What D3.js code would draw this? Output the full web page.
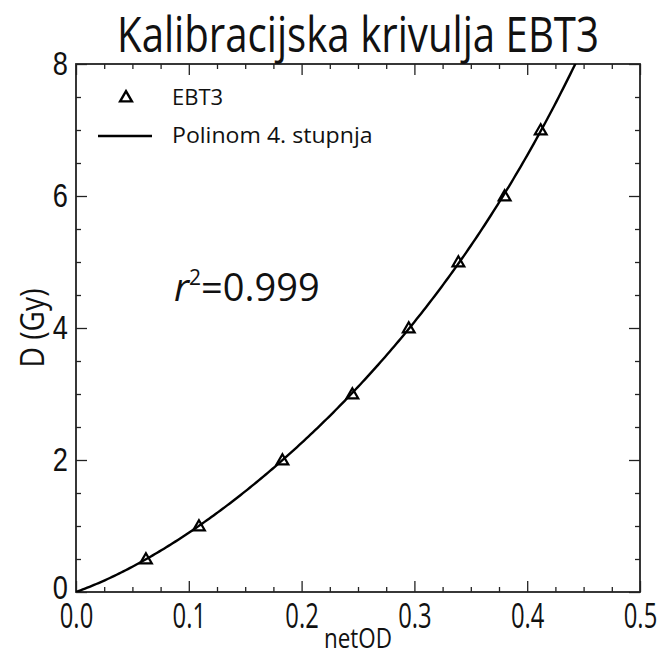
<!DOCTYPE html>
<html>
<head>
<meta charset="utf-8">
<script src="https://cdn.jsdelivr.net/npm/d3@7"></script>
<style>
  html, body { margin: 0; padding: 0; background: #fff; }
  svg { display: block; font-family: "Open Sans", sans-serif; }
</style>
</head>
<body>
<svg id="chart" width="661" height="655"></svg>
<script>
// ---- data ----
const netOD = [0.062, 0.109, 0.183, 0.245, 0.295, 0.339, 0.380, 0.412];
const dose  = [0.5, 1, 2, 3, 4, 5, 6, 7];
const xTicks = [0.0, 0.1, 0.2, 0.3, 0.4, 0.5];
const yTicks = [0, 2, 4, 6, 8];
const titleText = "Kalibracijska krivulja EBT3";
const xLabel = "netOD";
const yLabel = "D (Gy)";
const legendLabels = ["EBT3", "Polinom 4. stupnja"];
const r2Value = "0.999";

// ---- layout ----
const W = 661, H = 655;
const m = { left: 76, right: 21, top: 64, bottom: 63 };
const svg = d3.select("#chart");

const x = d3.scaleLinear().domain([0, 0.5]).range([m.left, W - m.right]);
const y = d3.scaleLinear().domain([0, 8]).range([H - m.bottom, m.top]);

// condense a text element horizontally by a factor
function condense(sel, f) {
  sel.each(function() {
    const w = this.getComputedTextLength();
    d3.select(this).attr("textLength", w * f).attr("lengthAdjust", "spacingAndGlyphs");
  });
}

// ---- 4th degree polynomial least-squares fit through origin (from the data) ----
function fitPoly(xs, ys, deg) {
  const n = deg;
  const A = Array.from({length: n}, () => new Array(n).fill(0));
  const b = new Array(n).fill(0);
  xs.forEach((xi, k) => {
    const p = d3.range(1, deg + 1).map(e => Math.pow(xi, e));
    for (let i = 0; i < n; i++) {
      b[i] += p[i] * ys[k];
      for (let j = 0; j < n; j++) A[i][j] += p[i] * p[j];
    }
  });
  for (let i = 0; i < n; i++) {
    let piv = i;
    for (let r = i + 1; r < n; r++) if (Math.abs(A[r][i]) > Math.abs(A[piv][i])) piv = r;
    [A[i], A[piv]] = [A[piv], A[i]]; [b[i], b[piv]] = [b[piv], b[i]];
    for (let r = i + 1; r < n; r++) {
      const f = A[r][i] / A[i][i];
      for (let c = i; c < n; c++) A[r][c] -= f * A[i][c];
      b[r] -= f * b[i];
    }
  }
  const c = new Array(n).fill(0);
  for (let i = n - 1; i >= 0; i--) {
    let s = b[i];
    for (let j = i + 1; j < n; j++) s -= A[i][j] * c[j];
    c[i] = s / A[i][i];
  }
  return xv => c.reduce((acc, ci, i) => acc + ci * Math.pow(xv, i + 1), 0);
}
const poly = fitPoly(netOD, dose, 4);
const curveX = d3.range(0, 0.5001, 0.002);
const curve = curveX.map(v => [v, poly(v)]);

// ---- clip ----
svg.append("defs").append("clipPath").attr("id", "clip")
  .append("rect").attr("x", m.left).attr("y", m.top)
  .attr("width", W - m.left - m.right).attr("height", H - m.top - m.bottom);

const axisColor = "#222";
const xMinor = d3.range(0, 0.5001, 0.025).filter(v => Math.abs(v * 10 - Math.round(v * 10)) > 1e-6);
const yMinor = d3.range(0, 8.001, 0.5).filter(v => v % 2 !== 0);

function styleAxis(g) {
  g.select(".domain").remove();
  g.selectAll(".tick line").attr("stroke", axisColor).attr("stroke-width", 1.3);
}
// bottom
svg.append("g").attr("transform", `translate(0,${y(0)})`)
  .call(d3.axisBottom(x).tickValues(xTicks).tickSize(-11).tickFormat(d3.format(".1f")).tickPadding(0))
  .call(styleAxis)
  .call(g => g.selectAll("text").attr("font-size", 35).attr("fill", "#111")
     .attr("font-family", "Open Sans").attr("dy", null).attr("y", 36))
  .call(g => condense(g.selectAll("text"), 0.68));
svg.append("g").attr("transform", `translate(0,${y(0)})`)
  .call(d3.axisBottom(x).tickValues(xMinor).tickSize(-5).tickFormat(""))
  .call(styleAxis);
// top
svg.append("g").attr("transform", `translate(0,${y(8)})`)
  .call(d3.axisTop(x).tickValues(xTicks).tickSize(-11).tickFormat(""))
  .call(styleAxis);
svg.append("g").attr("transform", `translate(0,${y(8)})`)
  .call(d3.axisTop(x).tickValues(xMinor).tickSize(-5).tickFormat(""))
  .call(styleAxis);
// left
svg.append("g").attr("transform", `translate(${x(0)},0)`)
  .call(d3.axisLeft(y).tickValues(yTicks).tickSize(-11).tickFormat(d3.format("d")).tickPadding(8))
  .call(styleAxis)
  .call(g => g.selectAll("text").attr("font-size", 34).attr("fill", "#111"))
  .call(g => g.selectAll(".tick").filter(d => d === 0).select("text").attr("dy", "0.2em"))
  .call(g => condense(g.selectAll("text"), 0.8));
svg.append("g").attr("transform", `translate(${x(0)},0)`)
  .call(d3.axisLeft(y).tickValues(yMinor).tickSize(-5).tickFormat(""))
  .call(styleAxis);
// right
svg.append("g").attr("transform", `translate(${x(0.5)},0)`)
  .call(d3.axisRight(y).tickValues(yTicks).tickSize(-11).tickFormat(""))
  .call(styleAxis);
svg.append("g").attr("transform", `translate(${x(0.5)},0)`)
  .call(d3.axisRight(y).tickValues(yMinor).tickSize(-5).tickFormat(""))
  .call(styleAxis);

// frame
svg.append("rect").attr("x", x(0)).attr("y", y(8))
  .attr("width", x(0.5) - x(0)).attr("height", y(0) - y(8))
  .attr("fill", "none").attr("stroke", axisColor).attr("stroke-width", 1.8);

// ---- curve ----
svg.append("path").datum(curve)
  .attr("clip-path", "url(#clip)")
  .attr("fill", "none").attr("stroke", "#000").attr("stroke-width", 2.4)
  .attr("d", d3.line().x(d => x(d[0])).y(d => y(d[1])));

// ---- markers ----
const tri = d3.symbol().type(d3.symbolTriangle).size(60);
svg.append("g").selectAll("path").data(netOD.map((v, i) => [v, dose[i]]))
  .join("path")
  .attr("transform", d => `translate(${x(d[0])},${y(d[1]) + 1})`)
  .attr("d", tri)
  .attr("fill", "none").attr("stroke", "#000").attr("stroke-width", 2.2);

// ---- legend ----
const lg = svg.append("g");
lg.append("path").attr("transform", "translate(126,98)").attr("d", tri)
  .attr("fill", "none").attr("stroke", "#000").attr("stroke-width", 2.4);
lg.append("line").attr("x1", 98).attr("x2", 152).attr("y1", 136).attr("y2", 136)
  .attr("stroke", "#000").attr("stroke-width", 2.4);
lg.append("text").attr("x", 172).attr("y", 105).attr("font-size", 22).attr("fill", "#111")
  .text(legendLabels[0]).call(s => condense(s, 1.0));
lg.append("text").attr("x", 172).attr("y", 143).attr("font-size", 22).attr("fill", "#111")
  .text(legendLabels[1]).call(s => condense(s, 1.05));

// ---- r^2 annotation ----
const rt = svg.append("text").attr("x", 174).attr("y", 301).attr("font-size", 38).attr("fill", "#111");
rt.append("tspan").attr("font-style", "italic").text("r");
rt.append("tspan").attr("font-size", 21).attr("dy", -16).text("2");
rt.append("tspan").attr("dy", 16).text("=" + r2Value);

// ---- title & axis labels ----
svg.append("text").attr("x", (x(0) + x(0.5)) / 2).attr("y", 52)
  .attr("text-anchor", "middle").attr("font-size", 49).attr("fill", "#111").text(titleText)
  .call(s => condense(s, 0.82));
svg.append("text").attr("x", (x(0) + x(0.5)) / 2).attr("y", 648)
  .attr("text-anchor", "middle").attr("font-size", 28).attr("fill", "#111").text(xLabel)
  .call(s => condense(s, 0.8));
svg.append("text").attr("transform", `translate(44,${(y(0) + y(8)) / 2}) rotate(-90)`)
  .attr("text-anchor", "middle").attr("font-size", 32).attr("fill", "#111").text(yLabel)
  .call(s => condense(s, 0.88));
</script>
</body>
</html>
